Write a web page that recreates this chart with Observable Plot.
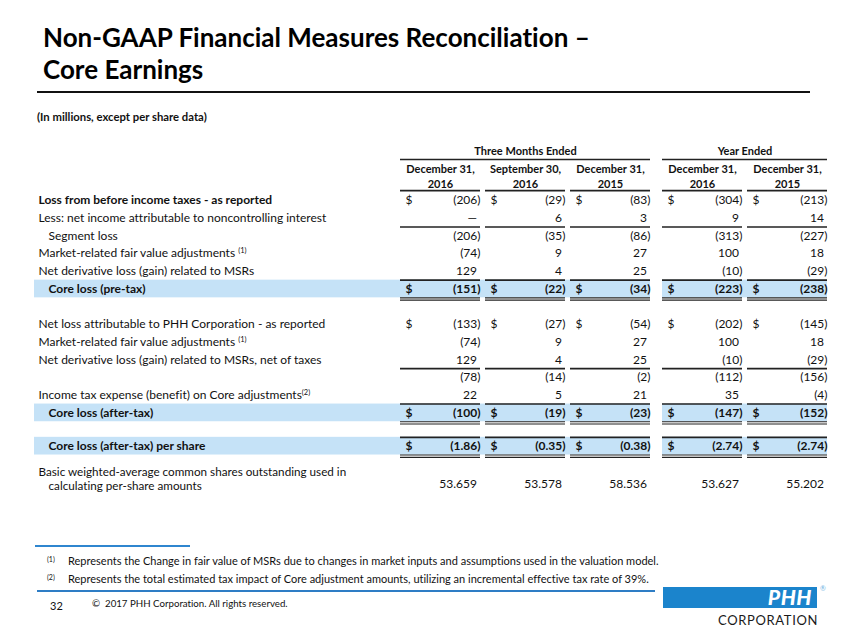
<!DOCTYPE html>
<html><head><meta charset="utf-8">
<script src="https://cdn.jsdelivr.net/npm/d3@7"></script>
<script src="https://cdn.jsdelivr.net/npm/@observablehq/plot@0.6"></script>
<style>
html,body{margin:0;padding:0;background:#fff;}
#page{position:relative;width:847px;height:635px;overflow:hidden;font-family:Lato,"Open Sans",sans-serif;color:#111;font-variant-ligatures:none;}
#page svg text{font-variant-ligatures:none;}
.abs{position:absolute;white-space:nowrap;}
#title{left:43px;top:21px;font-size:26px;font-weight:700;line-height:32px;color:#000;}
#titleRule{left:37px;top:91px;width:773px;height:2px;background:#111;}
#subtitle{left:37px;top:110px;font-size:11.3px;font-weight:700;line-height:14px;}
#fnRule{left:35px;top:545px;width:155px;height:1.5px;background:#2f86cf;}
.fnm{font-size:7px;}
.fn{font-size:11px;line-height:16px;}
#footRule{left:37px;top:590px;width:618px;height:2px;background:#2e7dc5;}
#pageNo{left:50px;top:598px;font-size:11px;line-height:16px;}
#copy{left:92px;top:596px;font-size:9.7px;line-height:14px;}
#logoBox{left:663px;top:587px;width:154px;height:21px;background:#1b84cc;}
#logoText{right:35px;top:586px;font-size:21px;line-height:22px;font-weight:900;font-style:italic;color:#fff;letter-spacing:0.5px;}
#reg{left:820px;top:584px;font-size:7px;color:#6fb3e3;}
#corp{left:718px;top:612px;font-size:13px;line-height:16px;color:#1a1a1a;letter-spacing:0.65px;}
</style></head><body>
<div id="page">
  <div class="abs" id="title">Non-GAAP Financial Measures Reconciliation –<br>Core Earnings</div>
  <div class="abs" id="titleRule"></div>
  <div class="abs" id="subtitle">(In millions, except per share data)</div>
  <div class="abs" id="fnRule"></div>
  <div class="abs fn" style="left:47px;top:550px;"><span class="fnm">(1)</span></div>
  <div class="abs fn" style="left:68px;top:553px;">Represents the Change in fair value of MSRs due to changes in market inputs and assumptions used in the valuation model.</div>
  <div class="abs fn" style="left:47px;top:568px;"><span class="fnm">(2)</span></div>
  <div class="abs fn" style="left:68px;top:571px;">Represents the total estimated tax impact of Core adjustment amounts, utilizing an incremental effective tax rate of 39%.</div>
  <div class="abs" id="footRule"></div>
  <div class="abs" id="pageNo">32</div>
  <div class="abs" id="copy">©&nbsp; 2017 PHH Corporation. All rights reserved.</div>
  <div class="abs" id="logoBox"></div>
  <div class="abs" id="logoText">PHH</div>
  <div class="abs" id="reg">®</div>
  <div class="abs" id="corp">CORPORATION</div>
</div>
<script>
// ---------- DATA ----------
const periodGroup = ["Three Months Ended","Three Months Ended","Three Months Ended","Year Ended","Year Ended"];
const periodEnd = ["December 31,","September 30,","December 31,","December 31,","December 31,"];
const periodYear = ["2016","2016","2015","2016","2015"];

const rowLabels = [
  "Loss from before income taxes - as reported",
  "Less: net income attributable to noncontrolling interest",
  "Segment loss",
  "Market-related fair value adjustments {1}",
  "Net derivative loss (gain) related to MSRs",
  "Core loss (pre-tax)",
  "Net loss attributable to PHH Corporation - as reported",
  "Market-related fair value adjustments {1}",
  "Net derivative loss (gain) related to MSRs, net of taxes",
  "",
  "Income tax expense (benefit) on Core adjustments{2}",
  "Core loss (after-tax)",
  "Core loss (after-tax) per share",
  "Basic weighted-average common shares outstanding used in\ncalculating per-share amounts"
];
const lossBeforeTaxes      = [-206, -29, -83, -304, -213];
const nonControlling       = [0, 6, 3, 9, 14];
const segmentLoss          = [-206, -35, -86, -313, -227];
const marketAdjustments    = [-74, 9, 27, 100, 18];
const netDerivative        = [129, 4, 25, -10, -29];
const coreLossPreTax       = [-151, -22, -34, -223, -238];
const netLossReported      = [-133, -27, -54, -202, -145];
const marketAdjustments2   = [-74, 9, 27, 100, 18];
const netDerivativeNetTax  = [129, 4, 25, -10, -29];
const adjustedSubtotal     = [-78, -14, -2, -112, -156];
const incomeTaxOnCore      = [22, 5, 21, 35, -4];
const coreLossAfterTax     = [-100, -19, -23, -147, -152];
const coreLossPerShare     = [-1.86, -0.35, -0.38, -2.74, -2.74];
const sharesOutstanding    = [53.659, 53.578, 58.536, 53.627, 55.202];

const rowValues = [lossBeforeTaxes, nonControlling, segmentLoss, marketAdjustments, netDerivative,
  coreLossPreTax, netLossReported, marketAdjustments2, netDerivativeNetTax, adjustedSubtotal,
  incomeTaxOnCore, coreLossAfterTax, coreLossPerShare, sharesOutstanding];

// ---------- LAYOUT (code, not data) ----------
const W = 847, H = 375;            // svg size; svg sits 130px below page top
const PITCH = 85, X0 = 400;        // x scale: 1 column unit = 85px, column 0 starts at 400px
const ROW = 17.7, Y0 = 70;         // y scale: 1 row unit = 17.7px, row 0 centre at 70px
const groupGap = 7 / PITCH, colW = 80 / PITCH;
const colLeft = c => c + (periodGroup[c] === "Year Ended" ? groupGap : 0);
const colRight = c => colLeft(c) + colW;
const px = p => (p - X0) / PITCH;
const labelX = px(38), indentX = px(48), bandX = px(34);
const rowSlot = [0,1,2,3,4,5,7,8,9,10,11,12,13.88,16];
const dollarRows = new Set([0,5,6,11,12]);
const boldRows = new Set([5,11,12]);
const boldLabelRows = new Set([0,5,11,12]);
const indentRows = new Set([2,5,11,12]);
const underlineRows = [1, 8];
const decimals = r => r === 12 ? 2 : r === 13 ? 3 : 0;
const fmt = (v, d) => v === 0 ? "\u2014" : v < 0 ? `(${d3.format(`.${d}f`)(-v)})` : d3.format(`.${d}f`)(v);
const cols = periodEnd.map((_, c) => c);
const groups = [...new Set(periodGroup)].map(g => {
  const cs = cols.filter(c => periodGroup[c] === g);
  return {g, x1: colLeft(cs[0]), x2: colRight(cs[cs.length - 1])};
});

// cells
const cells = [];
rowValues.forEach((vals, r) => vals.forEach((v, c) => cells.push({
  r, c, v, text: fmt(v, decimals(r)), x: colRight(c), y: rowSlot[r], bold: boldRows.has(r)
})));
const dollars = [];
rowValues.forEach((vals, r) => { if (dollarRows.has(r)) cols.forEach(c => dollars.push({x: colLeft(c) + 5/PITCH, y: rowSlot[r], bold: boldRows.has(r)})); });

// labels
const labels = [], wrapped = [];
rowLabels.forEach((t, r) => {
  if (!t) return;
  const lines = t.split("\n");
  if (lines.length === 1) labels.push({text: t, x: indentRows.has(r) ? indentX : labelX, y: rowSlot[r], bold: boldLabelRows.has(r)});
  else {
    wrapped.push({text: lines[0], x: labelX, y: rowSlot[r] - 0.66});
    wrapped.push({text: lines[1], x: indentX, y: rowSlot[r] + 0.13});
  }
});

// bands & rules
const bands = [], rules = [], thin = [];
boldRows.forEach(r => {
  bands.push({x1: bandX, x2: groups[0].x2, y1: rowSlot[r] - 0.5, y2: rowSlot[r] + 0.5});
  bands.push({x1: groups[1].x1, x2: groups[1].x2, y1: rowSlot[r] - 0.5, y2: rowSlot[r] + 0.5});
  cols.forEach(c => {
    rules.push({x1: colLeft(c), x2: colRight(c), y: rowSlot[r] - 0.5});
    thin.push({x1: colLeft(c), x2: colRight(c), y: rowSlot[r] + 0.5});
    thin.push({x1: colLeft(c), x2: colRight(c), y: rowSlot[r] + 0.63});
  });
});
underlineRows.forEach(r => cols.forEach(c => rules.push({x1: colLeft(c), x2: colRight(c), y: rowSlot[r] + 0.5})));
cols.forEach(c => rules.push({x1: colLeft(c), x2: colRight(c), y: -0.56}));
groups.forEach(g => rules.push({x1: g.x1, x2: g.x2, y: -2.32}));

const headers = cols.flatMap(c => [
  {text: periodEnd[c], x: (colLeft(c) + colRight(c)) / 2, y: -1.75},
  {text: periodYear[c], x: (colLeft(c) + colRight(c)) / 2, y: -0.9}
]);
const groupHeads = groups.map(g => ({text: g.g, x: (g.x1 + g.x2) / 2, y: -2.77}));

const plot = Plot.plot({
  width: W, height: H, margin: 0,
  x: {type: "linear", domain: [px(0), px(W)], range: [0, W], axis: null},
  y: {type: "linear", domain: [-Y0 / ROW, (H - Y0) / ROW], range: [0, H], axis: null},
  style: {fontFamily: "Lato, 'Open Sans', sans-serif", fontSize: "12px", color: "#111", background: "transparent"},
  marks: [
    Plot.rect(bands, {x1: "x1", x2: "x2", y1: "y1", y2: "y2", fill: "#c5e2f7"}),
    Plot.ruleY(rules, {y: "y", x1: "x1", x2: "x2", stroke: "#222", strokeWidth: 1.6}),
    Plot.ruleY(thin, {y: "y", x1: "x1", x2: "x2", stroke: "#222", strokeWidth: 1.1}),
    Plot.text(groupHeads, {x: "x", y: "y", text: "text", fontWeight: "bold", fontSize: 11}),
    Plot.text(headers, {x: "x", y: "y", text: "text", fontWeight: "bold", fontSize: 11}),
    Plot.text(labels.filter(d => !d.bold), {x: "x", y: "y", text: "text", textAnchor: "start"}),
    Plot.text(labels.filter(d => d.bold), {x: "x", y: "y", text: "text", textAnchor: "start", fontWeight: "bold"}),
    Plot.text(wrapped, {x: "x", y: "y", text: "text", textAnchor: "start", fontSize: 11.7}),
    Plot.text(dollars.filter(d => !d.bold), {x: "x", y: "y", text: () => "$", textAnchor: "start"}),
    Plot.text(dollars.filter(d => d.bold), {x: "x", y: "y", text: () => "$", textAnchor: "start", fontWeight: "bold"}),
    Plot.text(cells.filter(d => !d.bold && d.v < 0), {x: "x", y: "y", text: "text", textAnchor: "end"}),
    Plot.text(cells.filter(d => !d.bold && d.v >= 0), {x: "x", y: "y", text: "text", textAnchor: "end", dx: -3.5}),
    Plot.text(cells.filter(d => d.bold && d.v < 0), {x: "x", y: "y", text: "text", textAnchor: "end", fontWeight: "bold"}),
    Plot.text(cells.filter(d => d.bold && d.v >= 0), {x: "x", y: "y", text: "text", textAnchor: "end", dx: -3.5, fontWeight: "bold"})
  ]
});
plot.style.position = "absolute";
plot.style.left = "0px";
plot.style.top = "130px";
// superscript footnote refs
const NS = "http://www.w3.org/2000/svg";
plot.querySelectorAll("text").forEach(t => {
  const m = t.textContent.match(/^(.*)\{(\d)\}$/);
  if (m) {
    t.textContent = m[1];
    const ts = document.createElementNS(NS, "tspan");
    ts.setAttribute("dy", "-4");
    ts.setAttribute("font-size", "7.5");
    ts.textContent = "(" + m[2] + ")";
    t.appendChild(ts);
  }
});
document.getElementById("page").appendChild(plot);
</script>
</body></html>
